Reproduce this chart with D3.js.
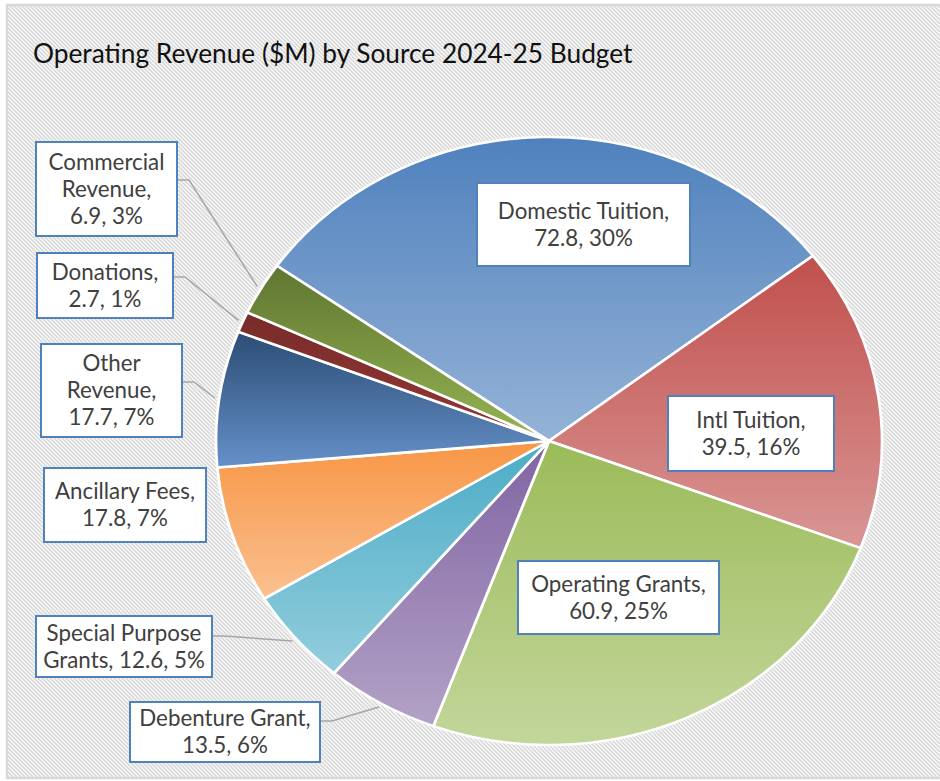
<!DOCTYPE html>
<html>
<head>
<meta charset="utf-8">
<script src="https://cdn.jsdelivr.net/npm/d3@7"></script>
<style>
  html, body { margin: 0; padding: 0; background: #ffffff; }
  svg { display: block; }
</style>
</head>
<body>
<svg id="chart" width="940" height="781"></svg>
<script>
// ---- data ----
const title = "Operating Revenue ($M) by Source 2024-25 Budget";
const categories = [
  "Domestic Tuition", "Intl Tuition", "Operating Grants", "Debenture Grant",
  "Special Purpose Grants", "Ancillary Fees", "Other Revenue", "Donations",
  "Commercial Revenue"
];
const values = [72.8, 39.5, 60.9, 13.5, 12.6, 17.8, 17.7, 2.7, 6.9];

// ---- styles ----
const colorsTop    = ["#4f81bd", "#c0504d", "#9bbb59", "#8064a2", "#4bacc6", "#f79646", "#2c4d75", "#772c2a", "#5f7530"];
const colorsBottom = ["#95b3d7", "#d99694", "#c3d69b", "#b3a2c7", "#93cddd", "#fac090", "#6590c8", "#963735", "#96b552"];

// label boxes: x, y, w, h, words per line, outside (with leader), leader anchor y
const labelLayout = [
  { x: 477, y: 183, w: 213, h: 83, lines: [2, 2] },
  { x: 668, y: 396, w: 166, h: 75, lines: [2, 2] },
  { x: 518, y: 561, w: 201, h: 73, lines: [2, 2] },
  { x: 130, y: 702, w: 190, h: 60, lines: [2, 2], leader: 721 },
  { x: 36,  y: 616, w: 176, h: 61, lines: [2, 3], leader: 636 },
  { x: 44,  y: 468, w: 162, h: 74, lines: [2, 2] },
  { x: 41,  y: 344, w: 141, h: 93, lines: [1, 1, 2], leader: 382 },
  { x: 37,  y: 253, w: 136, h: 65, lines: [1, 2], leader: 277 },
  { x: 36,  y: 142, w: 141, h: 94, lines: [1, 1, 2], leader: 180 }
];

const W = 940, H = 781;
const cx = 549, cy = 441;
const ry = 304, rx = 333;          // the pie is drawn slightly wider than tall
const startDeg = -54.8;
const fontFamily = "Lato, 'Open Sans', 'Noto Sans', sans-serif";

const svg = d3.select("#chart");
const defs = svg.append("defs");

// diagonal hatch used for the chart area
const pat = defs.append("pattern")
  .attr("id", "hatch").attr("patternUnits", "userSpaceOnUse")
  .attr("width", 4).attr("height", 4);
pat.append("rect").attr("width", 4).attr("height", 4).attr("fill", "#f8f8f8");
pat.append("path")
  .attr("d", "M-1,-1 L5,5 M3,-1 L5,1 M-1,3 L1,5")
  .attr("stroke", "#d6d6d6").attr("stroke-width", 1.3);

// chart area
svg.append("rect")
  .attr("x", 7).attr("y", 5).attr("width", W + 10).attr("height", 773)
  .attr("fill", "url(#hatch)")
  .attr("stroke", "#d9d9d9").attr("stroke-width", 2.5);

// fit a font size so a string spans the given width
function fitSize(str, target, weight) {
  const t = svg.append("text")
    .attr("font-family", fontFamily).attr("font-size", 100)
    .attr("font-weight", weight || 400).text(str);
  const w = t.node().getComputedTextLength();
  t.remove();
  return 100 * target / w;
}

// title
svg.append("text")
  .attr("x", 33).attr("y", 63)
  .attr("font-family", fontFamily)
  .attr("font-size", fitSize(title, 600))
  .attr("fill", "#111111")
  .text(title);

// gradients per slice
categories.forEach((c, i) => {
  const g = defs.append("linearGradient")
    .attr("id", "grad" + i)
    .attr("x1", 0).attr("y1", 0).attr("x2", 0).attr("y2", 1);
  g.append("stop").attr("offset", "0%").attr("stop-color", colorsTop[i]);
  g.append("stop").attr("offset", "100%").attr("stop-color", colorsBottom[i]);
});

// pie
const total = d3.sum(values);
const data = categories.map((c, i) => ({ name: c, value: values[i], i }));
const start = startDeg * Math.PI / 180;
const pie = d3.pie().sort(null).value(d => d.value)
  .startAngle(start).endAngle(start + 2 * Math.PI);
const arcs = pie(data);
const arc = d3.arc().innerRadius(0).outerRadius(ry);

const pieG = svg.append("g")
  .attr("transform", `translate(${cx},${cy}) scale(${rx / ry},1)`);
pieG.selectAll("path")
  .data(arcs)
  .join("path")
  .attr("d", arc)
  .attr("fill", d => `url(#grad${d.data.i})`)
  .attr("stroke", "#ffffff")
  .attr("stroke-width", 2.5)
  .attr("stroke-linejoin", "round");

// labels
const labelSize = fitSize("Commercial", 116);
const lineGap = 27;

arcs.forEach((a, i) => {
  const L = labelLayout[i];
  const pct = Math.round(a.data.value / total * 100);
  const words = `${a.data.name}, ${a.data.value}, ${pct}%`.split(" ");
  const lines = [];
  let k = 0;
  L.lines.forEach(n => { lines.push(words.slice(k, k + n).join(" ")); k += n; });

  // leader line from box to the slice's outer edge
  if (L.leader !== undefined) {
    const mid = (a.startAngle + a.endAngle) / 2;
    const r = ry + 4;
    const px = cx + Math.sin(mid) * r * (rx / ry);
    const py = cy - Math.cos(mid) * r;
    const bx = L.x + L.w;
    svg.append("path")
      .attr("d", `M${bx},${L.leader} L${bx + 12},${L.leader} L${px},${py}`)
      .attr("fill", "none")
      .attr("stroke", "#a6a6a6").attr("stroke-width", 1.5);
  }

  svg.append("rect")
    .attr("x", L.x).attr("y", L.y).attr("width", L.w).attr("height", L.h)
    .attr("fill", "#ffffff")
    .attr("stroke", "#4f81bd").attr("stroke-width", 2);

  const mx = L.x + L.w / 2;
  const my = L.y + L.h / 2;
  const t = svg.append("text")
    .attr("font-family", fontFamily)
    .attr("font-size", labelSize)
    .attr("fill", "#404040")
    .attr("text-anchor", "middle");
  lines.forEach((ln, j) => {
    t.append("tspan")
      .attr("x", mx)
      .attr("y", my + (j - (lines.length - 1) / 2) * lineGap)
      .attr("dy", "0.35em")
      .text(ln);
  });
});
</script>
</body>
</html>
